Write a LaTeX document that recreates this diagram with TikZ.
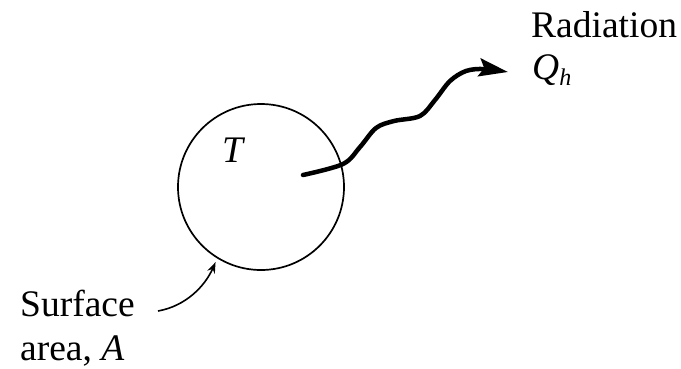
\documentclass[tikz,border=0pt]{standalone}
\usepackage{fontspec}
\setmainfont{Liberation Serif}
\usetikzlibrary{arrows.meta}
\tikzset{
  lbl/.style={inner sep=0pt, anchor=base west, font=\fontsize{37.5}{46}\selectfont},
  body/.style={circle, draw, line width=1.7pt, minimum size=166pt, inner sep=0pt},
  wave/.style={line width=4.5pt, line cap=round, -{Stealth[length=29pt, width=18pt, inset=5pt]}},
  pointer/.style={line width=1.6pt, -{Stealth[length=11pt, width=8pt]}}
}
\begin{document}
\begin{tikzpicture}[x=1pt, y=-1pt]
\useasboundingbox (0,0) rectangle (681,368);
\node[body] (circ) at (261,187) {};
\node[lbl] (temp) at (222,162) {\itshape T};
\node[lbl] (rad) at (531,37) {Radiation};
\node[lbl] (q) at (532,79) {\itshape Q\raisebox{-6pt}{\fontsize{24}{24}\selectfont h}};
\node[lbl] (surf) at (20,316) {Surface};
\node[lbl] (area) at (20,360) {area, \itshape A};
\coordinate (ws) at (303,175);
\coordinate (we) at (508,72);
\coordinate (sa) at (158,311);
\draw[wave] plot[smooth, tension=0.55] coordinates {(ws) (343,164) (360,147) (376,128) (394,121) (420,116) (435,100) (450,81) (466,71) (484,69) (we)};
\draw[pointer] (sa) .. controls (186,306) and (205,286) .. ([shift={(-1pt,-4pt)}]circ.238);
\end{tikzpicture}
\end{document}
